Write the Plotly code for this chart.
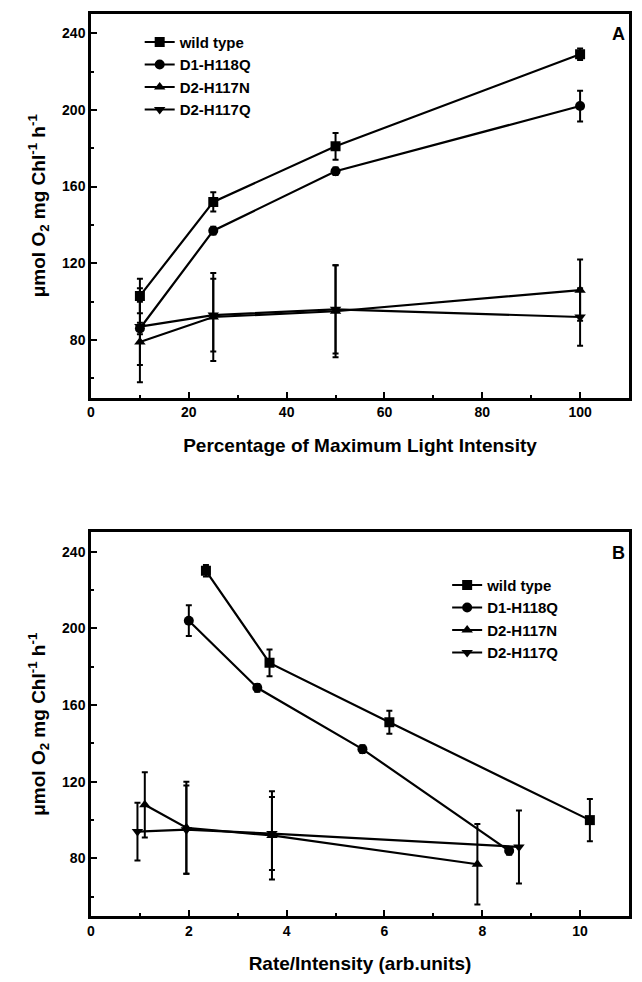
import plotly.graph_objects as go

# ---------------- data ----------------
series_names = ["wild type", "D1-H118Q", "D2-H117N", "D2-H117Q"]
symbols = ["square", "circle", "triangle-up", "triangle-down"]

# Panel A: Percentage of maximum light intensity
light_pct = [10, 25, 50, 100]
a_wt = [103, 152, 181, 229]
a_wt_err = [9, 5, 7, 3]
a_d1 = [86, 137, 168, 202]
a_d1_err = [3, 2, 2, 8]
a_n = [79, 92, 95, 106]
a_n_err = [21, 23, 24, 16]
a_q = [87, 93, 96, 92]
a_q_err = [20, 19, 23, 15]

# Panel B: Rate/Intensity
b_wt_x = [2.35, 3.65, 6.1, 10.2]
b_wt = [230, 182, 151, 100]
b_wt_err = [3, 7, 6, 11]
b_d1_x = [2.0, 3.4, 5.55, 8.55]
b_d1 = [204, 169, 137, 84]
b_d1_err = [8, 2, 2, 2]
b_n_x = [1.1, 1.95, 3.7, 7.9]
b_n = [108, 96, 92, 77]
b_n_err = [17, 24, 23, 21]
b_q_x = [0.95, 1.95, 3.7, 8.75]
b_q = [94, 95, 93, 86]
b_q_err = [15, 23, 19, 19]

FONT = "Liberation Sans"

fig = go.Figure()

panel_a = [(light_pct, a_wt, a_wt_err), (light_pct, a_d1, a_d1_err),
           (light_pct, a_n, a_n_err), (light_pct, a_q, a_q_err)]
panel_b = [(b_wt_x, b_wt, b_wt_err), (b_d1_x, b_d1, b_d1_err),
           (b_n_x, b_n, b_n_err), (b_q_x, b_q, b_q_err)]

for i, (xs, ys, es) in enumerate(panel_a):
    fig.add_trace(go.Scatter(
        x=xs, y=ys, name=series_names[i], mode="lines+markers",
        line=dict(color="black", width=2.2),
        marker=dict(symbol=symbols[i], size=10, color="black"),
        error_y=dict(type="data", array=es, visible=True, color="black",
                     thickness=2, width=3),
        xaxis="x", yaxis="y", legend="legend"))

for i, (xs, ys, es) in enumerate(panel_b):
    fig.add_trace(go.Scatter(
        x=xs, y=ys, name=series_names[i], mode="lines+markers",
        line=dict(color="black", width=2.2),
        marker=dict(symbol=symbols[i], size=10, color="black"),
        error_y=dict(type="data", array=es, visible=True, color="black",
                     thickness=2, width=3),
        xaxis="x2", yaxis="y2", legend="legend2"))

tickfont = dict(family=FONT, size=14, color="black", weight="bold")
titlefont = dict(family=FONT, size=19, color="black", weight="bold")

def xaxis_def(rng, dtick, minor_dtick, anchor, title):
    return dict(range=rng, dtick=dtick, tick0=0, anchor=anchor,
                showline=True, linecolor="black", linewidth=2.5, mirror=True,
                ticks="inside", ticklen=6, tickwidth=2, tickcolor="black",
                minor=dict(dtick=minor_dtick, ticks="inside", ticklen=3,
                           tickwidth=1.5, tickcolor="black"),
                showgrid=False, zeroline=False, tickfont=tickfont,
                title=dict(text=title, font=titlefont, standoff=20))

def yaxis_def(domain, anchor):
    return dict(range=[50, 250], dtick=40, tick0=0, domain=domain, anchor=anchor,
                showline=True, linecolor="black", linewidth=2.5, mirror=True,
                ticks="inside", ticklen=6, tickwidth=2, tickcolor="black",
                minor=dict(dtick=20, ticks="inside", ticklen=3,
                           tickwidth=1.5, tickcolor="black"),
                showgrid=False, zeroline=False, tickfont=tickfont,
                title=dict(text="μmol O<sub>2</sub> mg Chl<sup>-1</sup> h<sup>-1</sup>",
                           font=titlefont, standoff=12))

legfont = dict(family=FONT, size=15, color="black", weight="bold")

# The page body keeps its default 8px margin; the figure is sized so that
# the whole page fits the 642x982 window without scrolling.
fig.update_layout(
    width=626, height=966,
    paper_bgcolor="white", plot_bgcolor="white",
    margin=dict(l=83, r=2, t=6, b=57),
    xaxis=xaxis_def([0, 110], 20, 10, "y", "Percentage of Maximum Light Intensity"),
    yaxis=yaxis_def([0.5748, 1.0], "x"),
    xaxis2=xaxis_def([0, 11], 2, 1, "y2", "Rate/Intensity (arb.units)"),
    yaxis2=yaxis_def([0.0, 0.4252], "x2"),
    legend=dict(x=0.0905, y=0.987, xanchor="left", yanchor="top",
                bgcolor="rgba(0,0,0,0)", font=legfont, tracegroupgap=0,
                itemwidth=30),
    legend2=dict(x=0.662, y=0.385, xanchor="left", yanchor="top",
                 bgcolor="rgba(0,0,0,0)", font=legfont, tracegroupgap=0,
                 itemwidth=30),
    annotations=[
        dict(text="A", xref="x domain", yref="y domain", x=0.997, y=0.978,
             xanchor="right", yanchor="top", showarrow=False,
             font=dict(family=FONT, size=18, color="black", weight="bold")),
        dict(text="B", xref="x2 domain", yref="y2 domain", x=0.997, y=0.978,
             xanchor="right", yanchor="top", showarrow=False,
             font=dict(family=FONT, size=18, color="black", weight="bold")),
    ],
)

fig.write_html("out.html")
